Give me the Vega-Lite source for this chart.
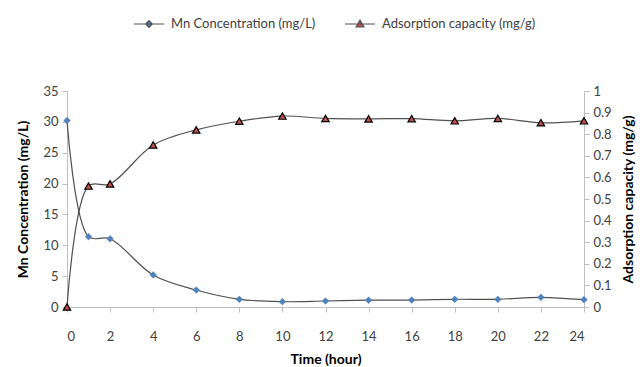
{
  "$schema": "https://vega.github.io/schema/vega-lite/v6.json",
  "autosize": "none",
  "width": 517,
  "height": 216,
  "padding": {"left": 67, "top": 91, "right": 59, "bottom": 60},
  "background": "white",
  "config": {
    "font": "Lato",
    "view": {"stroke": null},
    "axis": {
      "labelFont": "Lato",
      "labelFontSize": 13,
      "labelColor": "#404040",
      "titleFont": "Lato",
      "titleFontSize": 14,
      "titleFontWeight": "bold",
      "titleColor": "#000000",
      "domainColor": "#bfbfbf",
      "tickColor": "#bfbfbf",
      "tickSize": 5,
      "grid": false
    },
    "legend": {
      "labelFont": "Lato",
      "labelFontSize": 13,
      "labelColor": "#404040"
    }
  },
  "data": {
    "values": [
      {"t": 0, "mn": 30.2, "ads": 0.0},
      {"t": 1, "mn": 11.4, "ads": 0.56},
      {"t": 2, "mn": 11.05, "ads": 0.57},
      {"t": 4, "mn": 5.2, "ads": 0.75},
      {"t": 6, "mn": 2.75, "ads": 0.82},
      {"t": 8, "mn": 1.25, "ads": 0.86},
      {"t": 10, "mn": 0.86, "ads": 0.884},
      {"t": 12, "mn": 0.97, "ads": 0.873},
      {"t": 14, "mn": 1.1, "ads": 0.871},
      {"t": 16, "mn": 1.12, "ads": 0.872},
      {"t": 18, "mn": 1.25, "ads": 0.862},
      {"t": 20, "mn": 1.25, "ads": 0.873},
      {"t": 22, "mn": 1.57, "ads": 0.853},
      {"t": 24, "mn": 1.18, "ads": 0.862}
    ]
  },
  "encoding": {
    "x": {
      "field": "t",
      "type": "quantitative",
      "scale": {"domain": [0, 24], "nice": false},
      "axis": {
        "title": "Time (hour)",
        "values": [0, 2, 4, 6, 8, 10, 12, 14, 16, 18, 20, 22, 24],
        "labelPadding": 18,
        "titlePadding": 9
      }
    }
  },
  "layer": [
    {
      "encoding": {
        "y": {
          "field": "mn",
          "type": "quantitative",
          "scale": {"domain": [0, 35], "nice": false},
          "axis": {
            "orient": "left",
            "title": "Mn Concentration (mg/L)",
            "values": [0, 5, 10, 15, 20, 25, 30, 35],
            "labelPadding": 4,
            "titlePadding": 12
          }
        }
      },
      "layer": [
        {
          "mark": {"type": "line", "interpolate": "catmull-rom", "strokeWidth": 1.2},
          "encoding": {
            "stroke": {
              "datum": "Mn Concentration (mg/L)",
              "scale": {"domain": ["Mn Concentration (mg/L)", "Adsorption capacity (mg/g)"], "range": ["#505050", "#505050"]},
              "legend": {
                "orient": "none",
                "legendX": 66,
                "legendY": -83,
                "direction": "horizontal",
                "title": null,
                "columnPadding": 26,
                "labelOffset": 6,
                "symbolSize": 900,
                "symbolStrokeWidth": 1.2,
                "symbolOpacity": 1
              }
            }
          }
        },
        {
          "transform": [{"filter": "false"}],
          "mark": {"type": "point", "filled": true, "opacity": 1},
          "encoding": {
            "shape": {
              "datum": "Mn Concentration (mg/L)",
              "scale": {"domain": ["Mn Concentration (mg/L)", "Adsorption capacity (mg/g)"], "range": ["M-1,0L1,0M0,-0.22L0.22,0L0,0.22L-0.22,0Z", "M-1,0L1,0M0,-0.26L0.26,0.2L-0.26,0.2Z"]}
            },
            "fill": {
              "datum": "Mn Concentration (mg/L)",
              "scale": {"domain": ["Mn Concentration (mg/L)", "Adsorption capacity (mg/g)"], "range": ["#4F81BD", "#C0504D"]}
            }
          }
        },
        {
          "mark": {"type": "point", "filled": true, "shape": "diamond", "size": 45, "opacity": 1, "fill": "#4F81BD", "stroke": "#4F81BD", "strokeWidth": 0.5}
        }
      ]
    },
    {
      "encoding": {
        "y": {
          "field": "ads",
          "type": "quantitative",
          "scale": {"domain": [0, 1], "nice": false},
          "axis": {
            "orient": "right",
            "title": "Adsorption capacity (mg/g)",
            "titleAngle": 270,
            "titleBaseline": "top",
            "values": [0, 0.1, 0.2, 0.3, 0.4, 0.5, 0.6, 0.7, 0.8, 0.9, 1],
            "format": "~g",
            "labelPadding": 4,
            "titlePadding": 10
          }
        }
      },
      "layer": [
        {
          "mark": {"type": "line", "interpolate": "catmull-rom", "strokeWidth": 1.2},
          "encoding": {
            "stroke": {"datum": "Adsorption capacity (mg/g)"}
          }
        },
        {
          "mark": {"type": "point", "filled": true, "shape": "triangle-up", "size": 55, "opacity": 1, "fill": "#C0504D", "stroke": "#000000", "strokeWidth": 1.2}
        }
      ]
    }
  ],
  "resolve": {"scale": {"y": "independent"}}
}
